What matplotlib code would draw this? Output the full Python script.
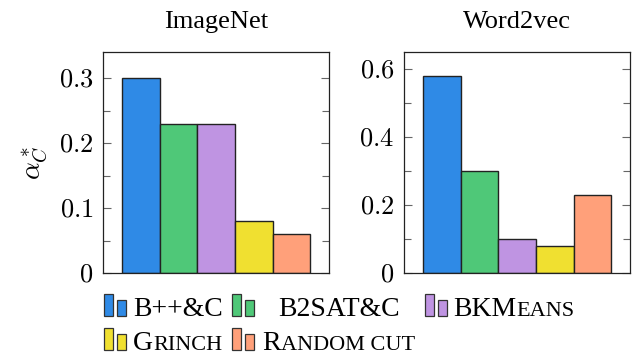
import matplotlib
matplotlib.use('Agg')
import matplotlib.pyplot as plt
from matplotlib.patches import Rectangle

plt.rcParams['mathtext.fontset'] = 'cm'
plt.rcParams['font.family'] = ['Liberation Serif', 'DejaVu Serif']

methods = ['B++&C', 'B2SAT&C', 'BKMeans', 'Grinch', 'Random cut']
colors = ['#2F8AE6', '#4FC878', '#BF94E2', '#F0E030', '#FFA07A']

imagenet = [0.30, 0.23, 0.23, 0.08, 0.06]
word2vec = [0.58, 0.30, 0.10, 0.08, 0.23]

imagenet_ticks = [0, 0.1, 0.2, 0.3]
imagenet_labels = ['$0$', '$0.1$', '$0.2$', '$0.3$']
word2vec_ticks = [0, 0.2, 0.4, 0.6]
word2vec_labels = ['$0$', '$0.2$', '$0.4$', '$0.6$']

W, H = 638, 360
fig = plt.figure(figsize=(W / 100, H / 100), dpi=100)


def panel(left, vals, title, ticks, labels, ymax, minor):
    ax = fig.add_axes([left / W, 1 - 273 / H, 226 / W, 221 / H])
    x = list(range(len(vals)))
    ax.bar(x, vals, width=1.0, color=colors, edgecolor='#222222', linewidth=1.0)
    ax.set_xlim(-1, 5)
    ax.set_ylim(0, ymax)
    ax.set_xticks([])
    ax.set_yticks(ticks)
    ax.set_yticklabels(labels, fontsize=19)
    ax.set_yticks(minor, minor=True)
    ax.tick_params(axis='y', which='both', direction='in', left=True, right=True,
                   color='#666666', width=0.8, pad=7)
    ax.tick_params(axis='y', which='major', length=6)
    ax.tick_params(axis='y', which='minor', length=5)
    for s in ax.spines.values():
        s.set_linewidth(0.9)
        s.set_color('#222222')
    ax.set_title(title, fontsize=19, pad=17)
    return ax


ax1 = panel(103, imagenet, 'ImageNet', imagenet_ticks, imagenet_labels, 0.34,
            [0.05, 0.15, 0.25])
ax1.set_ylabel(r'$\alpha^*_C$', fontsize=20, labelpad=6)
ax2 = panel(404, word2vec, 'Word2vec', word2vec_ticks, word2vec_labels, 0.65,
            [0.1, 0.3, 0.5])

renderer = fig.canvas.get_renderer()
big, small = 20, 16


def icon(x, base, col):
    # pgfplots-style ybar legend image: tall bar then short bar
    fig.patches.append(Rectangle((x / W, 1 - base / H), 9 / W, 22 / H, transform=fig.transFigure,
                                 facecolor=col, edgecolor='#333333', lw=0.9))
    fig.patches.append(Rectangle(((x + 13) / W, 1 - base / H), 9 / W, 16 / H, transform=fig.transFigure,
                                 facecolor=col, edgecolor='#333333', lw=0.9))


def label(x, base, parts):
    for s, size in parts:
        t = fig.text(x / W, 1 - base / H, s, fontsize=size, va='baseline', ha='left')
        x += t.get_window_extent(renderer).width


legend_rows = [
    (104, 316, colors[0], 133, [('B++&C', big)]),
    (232, 316, colors[1], 278, [('B2SAT&C', big)]),
    (425, 316, colors[2], 453, [('BKM', big), ('EANS', small)]),
    (104, 350, colors[3], 133, [('G', big), ('RINCH', small)]),
    (232, 350, colors[4], 262, [('R', big), ('ANDOM CUT', small)]),
]
for ix, base, col, tx, parts in legend_rows:
    icon(ix, base, col)
    label(tx, base, parts)

fig.savefig('out.png', dpi=100)
